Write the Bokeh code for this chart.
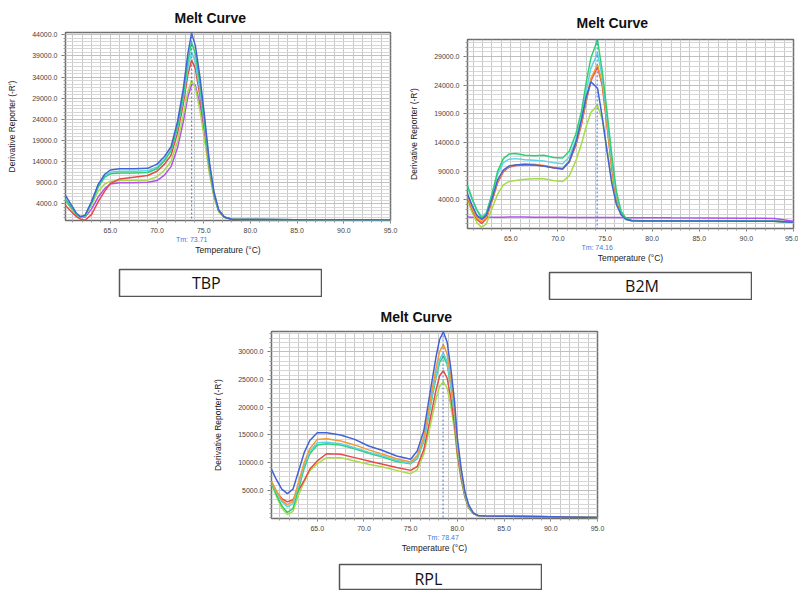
from bokeh.plotting import figure
from bokeh.layouts import column, row
from bokeh.models import (Range1d, FixedTicker, Span, LinearAxis, Spacer, NumeralTickFormatter)
from bokeh.core.properties import value
from bokeh.embed import file_html
from bokeh.resources import INLINE

# ---------------- data ----------------
# TBP
tbp_temp = [60.2, 60.8, 61.4, 61.8, 62.3, 63.0, 63.7, 64.4, 65.0, 66.0, 67.5, 69.0, 70.0, 70.8, 71.5,
            72.2, 72.8, 73.3, 73.7, 74.1, 74.6, 75.1, 75.6, 76.1, 76.6, 77.2, 78.0, 80.0, 85.0, 90.0, 95.0]
tbp_blue = [6000, 3800, 1700, 900, 1300, 4600, 8600, 11000, 12000, 12300, 12300, 12400, 13400, 15200, 17500,
            23500, 31000, 39500, 44400, 41500, 34000, 24500, 14000, 6800, 2600, 900, 350, 300, 250, 200, 150]
tbp_green = [5000, 3200, 1500, 1000, 1300, 4200, 8000, 10300, 11100, 11300, 11300, 11400, 12300, 14200, 16600,
             22300, 29500, 37600, 42200, 39500, 32500, 23400, 13500, 6500, 2500, 900, 350, 300, 250, 200, 150]
tbp_cyan = [5200, 3300, 1500, 900, 1200, 4300, 8200, 10600, 11500, 11700, 11700, 11800, 12700, 14500, 16700,
            22000, 28800, 36000, 40000, 37500, 30800, 22300, 13000, 6300, 2400, 850, 350, 300, 250, 200, 150]
tbp_red = [3600, 2200, 900, 400, 100, 1500, 4500, 7000, 8800, 9900, 10300, 10700, 11700, 13400, 15500,
           20800, 27500, 34500, 38000, 36000, 29500, 21500, 12500, 6000, 2300, 800, 350, 300, 250, 200, 150]
tbp_lgreen = [4800, 3000, 1300, 800, 1100, 3800, 7000, 8700, 9300, 9500, 9500, 9600, 10400, 12000, 14000,
              18800, 24800, 30600, 33200, 31500, 26000, 19000, 11200, 5500, 2100, 800, 350, 300, 250, 200, 150]
tbp_purple = [4800, 3000, 1300, 800, 900, 2800, 5600, 7600, 8700, 9000, 9000, 9100, 9500, 10800, 12800,
              17300, 23300, 29300, 32300, 32100, 27500, 20500, 12300, 6000, 2300, 850, 350, 300, 250, 200, 150]
tbp_yticks = [4000, 9000, 14000, 19000, 24000, 29000, 34000, 39000, 44000]
tbp_tm = 73.71

# B2M
b2m_temp = [60.4, 60.9, 61.4, 61.9, 62.4, 63.0, 63.6, 64.2, 64.8, 65.5, 66.5, 67.5, 68.5, 69.5, 70.5, 71.2,
            71.9, 72.5, 73.0, 73.5, 74.2, 74.7, 75.2, 75.7, 76.2, 76.7, 77.2, 77.8, 79.0, 82.0, 86.0, 90.0,
            93.0, 95.0]
b2m_green = [6500, 4200, 2200, 800, 1500, 5000, 9000, 11200, 12000, 12100, 11800, 11700, 11800, 11400, 11300,
             12500, 15500, 19500, 24500, 28800, 31900, 26500, 19500, 12000, 5500, 2000, 800, 450, 350, 350,
             330, 300, 250, 100]
b2m_cyan = [6300, 4000, 2200, 1100, 1800, 5000, 8500, 10500, 11100, 11200, 11000, 10900, 10800, 10500, 10300,
            11500, 14500, 18500, 23000, 27000, 29600, 25500, 18500, 11000, 5000, 1900, 750, 400, 350, 350,
            330, 300, 250, 100]
b2m_orange = [4600, 2500, 800, 200, 900, 4000, 7200, 9000, 9800, 10100, 10200, 10200, 10000, 9700, 9500,
              10800, 13800, 17500, 21500, 25200, 27600, 24500, 17500, 10000, 4500, 1700, 700, 400, 350, 350,
              330, 300, 250, 100]
b2m_red = [4400, 2300, 600, -100, 700, 3800, 7000, 8900, 9700, 10000, 10100, 10100, 9900, 9600, 9400,
           10600, 13500, 17200, 21200, 24800, 27200, 24000, 17000, 9700, 4300, 1600, 650, 400, 350, 350,
           330, 300, 250, 100]
b2m_blue = [5000, 3000, 1300, 600, 1300, 4200, 7500, 9200, 9900, 10100, 10200, 10100, 9900, 9600, 9400,
            10700, 14000, 18000, 22000, 24600, 23500, 18500, 12500, 7000, 3200, 1400, 600, 350, 300, 300,
            300, 280, 250, 100]
b2m_lgreen = [3900, 1800, 0, -800, -200, 2500, 5000, 6600, 7200, 7400, 7600, 7700, 7700, 7400, 7200,
              8200, 10800, 13800, 16800, 19300, 20500, 18000, 13000, 7800, 3600, 1400, 550, 350, 300, 300,
              300, 280, 250, 100]
b2m_purple = [1000, 980, 960, 950, 950, 960, 970, 980, 990, 1000, 1000, 980, 960, 950, 950,
              940, 930, 930, 930, 930, 930, 920, 920, 910, 900, 900, 890, 880, 870, 860,
              850, 800, 750, 250]
b2m_yticks = [4000, 9000, 14000, 19000, 24000, 29000]
b2m_tm = 74.16

# RPL
rpl_temp = [60.1, 60.6, 61.2, 61.8, 62.4, 63.0, 63.6, 64.2, 65.0, 66.0, 67.5, 69.0, 70.5, 72.0, 73.5, 75.0,
            75.7, 76.4, 77.1, 77.7, 78.1, 78.5, 78.9, 79.3, 79.7, 80.0, 80.4, 80.8, 81.2, 81.7, 82.2, 83.0,
            85.0, 90.0, 95.0]
rpl_blue = [8800, 7000, 5200, 4400, 5200, 8500, 11800, 14000, 15400, 15400, 15000, 14200, 13000, 12200, 11200,
            10600, 12100, 15700, 22900, 29000, 32300, 33600, 31800, 27000, 21000, 14400, 9000, 4800, 2400, 900,
            450, 350, 300, 200, 70]
rpl_orange = [6600, 5000, 3200, 2400, 3000, 6500, 10000, 12500, 14200, 14300, 13900, 13200, 12300, 11500, 10700,
              10100, 11300, 14600, 21300, 27000, 30100, 31300, 29700, 25300, 19700, 13600, 8500, 4600, 2300, 900,
              450, 350, 300, 200, 70]
rpl_cyan = [6600, 4800, 3000, 2000, 2600, 6000, 9500, 12000, 13600, 13700, 13400, 12700, 11900, 11200, 10400,
            9900, 10900, 14000, 20400, 25800, 28700, 29800, 28300, 24200, 18800, 13000, 8100, 4300, 2100, 850,
            450, 350, 300, 200, 70]
rpl_green = [6400, 4300, 2200, 1000, 1700, 5200, 9000, 11600, 13200, 13400, 13200, 12500, 11700, 11000, 10200,
             9800, 10700, 13800, 20000, 25300, 28100, 29200, 27800, 23800, 18500, 12800, 8000, 4200, 2000, 850,
             450, 350, 300, 200, 70]
rpl_red = [6300, 4800, 3500, 2900, 3300, 5000, 6800, 8800, 10300, 11600, 11500, 10900, 10300, 9700, 9100,
           8600, 9300, 12300, 18000, 23000, 25700, 26600, 25300, 21600, 16800, 11700, 7300, 3900, 1900, 800,
           450, 350, 300, 200, 70]
rpl_lgreen = [6100, 4000, 1800, 600, 1200, 4200, 6500, 8500, 9800, 10900, 10900, 10300, 9700, 9200, 8600,
              8000, 8700, 11500, 16700, 21400, 23800, 24600, 23500, 20200, 15800, 11000, 6900, 3700, 1800, 800,
              450, 350, 300, 200, 70]
rpl_yticks = [5000, 10000, 15000, 20000, 25000, 30000]
rpl_tm = 78.47

x_ticks = [65.0, 70.0, 75.0, 80.0, 85.0, 90.0, 95.0]
genes = ["TBP", "B2M", "RPL"]

C_BLUE = "#4262d6"
C_GREEN = "#2fcf73"
C_CYAN = "#5cd3e6"
C_RED = "#e8494a"
C_LGREEN = "#a6dc46"
C_PURPLE = "#b150f0"
C_ORANGE = "#f29a34"

FONT = "Liberation Sans"


def make_panel(temps, series, xr, yr, yticks, tm, frame, title_standoff):
    ml, mt, fw, fh, mr, mb = frame
    p = figure(width=ml + fw + mr, height=mt + fh + mb,
               x_range=Range1d(*xr), y_range=Range1d(*yr),
               output_backend="svg", toolbar_location=None,
               min_border_left=ml, min_border_right=mr,
               min_border_top=mt, min_border_bottom=mb)
    p.background_fill_color = "white"
    p.border_fill_color = "white"
    p.outline_line_color = "#6e6e6e"
    p.outline_line_width = 1.5

    p.title.text = "Melt Curve"
    p.title.align = "left"
    p.title.offset = 109
    p.title.text_font = FONT
    p.title.text_font_size = "14px"
    p.title.text_font_style = "bold"
    p.title.text_color = "#111111"
    p.title.standoff = title_standoff

    # grid
    step = (yticks[1] - yticks[0]) / 6.0
    minor_y = [yticks[0] + i * step for i in range(-12, 80)]
    minor_y = [v for v in minor_y if yr[0] < v < yr[1]]
    p.xgrid.ticker = FixedTicker(ticks=[float(v) for v in range(61, 96)])
    p.xgrid.grid_line_color = "#c8c8c8"
    p.ygrid.ticker = FixedTicker(ticks=yticks, minor_ticks=minor_y)
    p.ygrid.grid_line_color = "#c0c0c0"
    p.ygrid.minor_grid_line_color = "#d6d6d6"

    # axes
    p.xaxis.ticker = FixedTicker(ticks=x_ticks, minor_ticks=[float(v) for v in range(61, 96)])
    p.xaxis.formatter = NumeralTickFormatter(format="0.0")
    p.yaxis.ticker = FixedTicker(ticks=yticks, minor_ticks=minor_y)
    p.yaxis.formatter = NumeralTickFormatter(format="0.0")
    for ax in (p.xaxis[0], p.yaxis[0]):
        ax.axis_line_color = None
        ax.major_tick_line_color = "#777777"
        ax.minor_tick_line_color = "#999999"
        ax.major_label_text_font = FONT
        ax.major_label_text_font_size = "7px"
        ax.major_label_text_color = "#444444"
        ax.axis_label_text_font = FONT
        ax.axis_label_text_font_style = "normal"
        ax.axis_label_text_color = "#222222"
    p.xaxis.major_tick_in = 0
    p.xaxis.major_tick_out = 3
    p.xaxis.minor_tick_in = 0
    p.xaxis.minor_tick_out = 2
    p.xaxis.major_label_standoff = 4
    p.yaxis.major_tick_in = 0
    p.yaxis.major_tick_out = 4
    p.yaxis.minor_tick_in = 0
    p.yaxis.minor_tick_out = 2
    p.yaxis.major_label_standoff = 4
    p.yaxis.axis_label = "Derivative Reporter (-R')"
    p.yaxis.axis_label_text_font_size = "8.5px"
    p.yaxis.axis_label_standoff = 12

    # second bottom axis carrying the Tm label and the axis title
    tm_axis = LinearAxis(ticker=FixedTicker(ticks=[tm]),
                         major_label_overrides={tm: "Tm: %.2f" % tm},
                         axis_line_color=None, major_tick_line_color=None,
                         minor_tick_line_color=None, major_tick_in=0, major_tick_out=0,
                         major_label_standoff=0,
                         major_label_text_font=FONT, major_label_text_font_size="7px",
                         major_label_text_color="#3d7ae0",
                         axis_label="Temperature (°C)", axis_label_standoff=-1,
                         axis_label_text_font=FONT, axis_label_text_font_size="8.5px",
                         axis_label_text_font_style="normal", axis_label_text_color="#222222")
    p.add_layout(tm_axis, "below")

    for ys, col in series:
        p.line(temps, ys, line_color=col, line_width=1.5)

    p.add_layout(Span(location=tm, dimension="height", line_color="#3d72dc",
                      line_dash="2 2", line_width=1))
    return p


def make_box(gene, w, h, tx, ty, bottom_border):
    b = figure(width=w, height=h, x_range=Range1d(0, 1), y_range=Range1d(0, 1),
               x_axis_location=None, y_axis_location=None,
               output_backend="svg", toolbar_location=None,
               min_border_left=1, min_border_right=1, min_border_top=1,
               min_border_bottom=bottom_border)
    b.grid.visible = False
    b.outline_line_color = "#555555"
    b.outline_line_width = 1.5
    b.background_fill_color = "white"
    b.border_fill_color = "white"
    b.text(x=[tx], y=[ty], text=[gene], text_align="center", text_baseline="middle",
           text_font=value("Open Sans"), text_font_size="16px", text_color="#111111")
    return b


pa = make_panel(tbp_temp,
                [(tbp_purple, C_PURPLE), (tbp_lgreen, C_LGREEN), (tbp_red, C_RED),
                 (tbp_cyan, C_CYAN), (tbp_green, C_GREEN), (tbp_blue, C_BLUE)],
                (60.2, 95.0), (50, 44550), tbp_yticks, tbp_tm,
                (65, 32, 325, 188, 10, 42), 14)

pb = make_panel(b2m_temp,
                [(b2m_purple, C_PURPLE), (b2m_lgreen, C_LGREEN), (b2m_red, C_RED),
                 (b2m_orange, C_ORANGE), (b2m_cyan, C_CYAN), (b2m_green, C_GREEN), (b2m_blue, C_BLUE)],
                (60.4, 95.0), (-1000, 32000), b2m_yticks, b2m_tm,
                (67, 39, 326, 189, 5, 40), 17)

pc = make_panel(rpl_temp,
                [(rpl_lgreen, C_LGREEN), (rpl_red, C_RED), (rpl_green, C_GREEN),
                 (rpl_cyan, C_CYAN), (rpl_orange, C_ORANGE), (rpl_blue, C_BLUE)],
                (60.1, 95.0), (-100, 33700), rpl_yticks, rpl_tm,
                (71, 30, 326, 188, 20, 45), 13)

box_a = make_box(genes[0], 204, 29, 0.43, 0.5, 1)
box_b = make_box(genes[1], 204, 29, 0.458, 0.5, 1)
box_c = make_box(genes[2], 204, 27, 0.44, 0.44, 0)

col_a = column(pa, Spacer(width=400, height=6),
               row(Spacer(width=118, height=29), box_a, Spacer(width=78, height=29)),
               Spacer(width=400, height=3))
col_b = column(pb, Spacer(width=398, height=3),
               row(Spacer(width=148, height=29), box_b, Spacer(width=46, height=29)))
col_c = column(pc,
               row(Spacer(width=138, height=27), box_c, Spacer(width=75, height=27)))

layout = column(row(col_a, col_b),
                row(Spacer(width=200, height=290), col_c))

with open("out.html", "w") as f:
    f.write(file_html(layout, INLINE))
